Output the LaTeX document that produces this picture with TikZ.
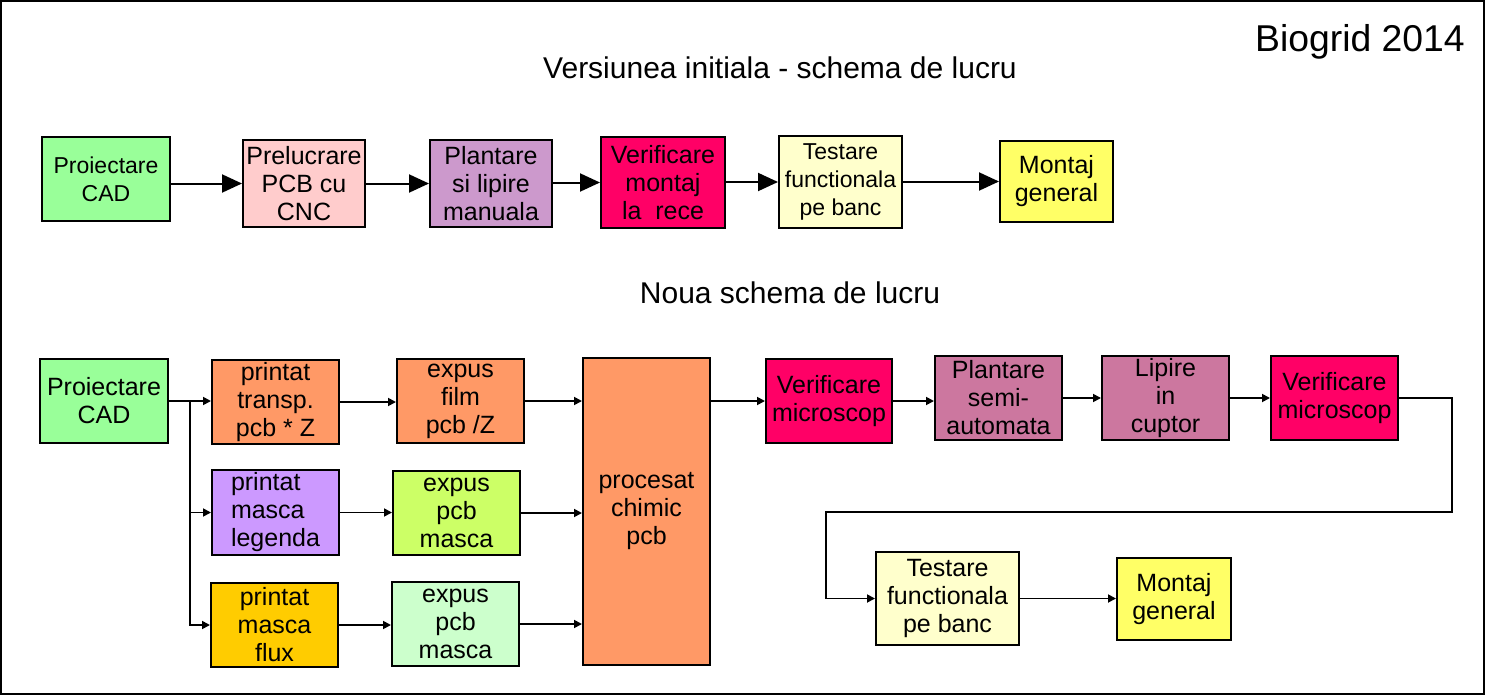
\documentclass[tikz,border=0pt]{standalone}
\usepackage{fontspec}
\setmainfont{Liberation Sans}
\usetikzlibrary{arrows.meta}

\definecolor{cadgreen}{HTML}{99FF99}
\definecolor{cncpink}{HTML}{FFCCCC}
\definecolor{plantlilac}{HTML}{CC99CC}
\definecolor{verifred}{HTML}{FF0066}
\definecolor{testcream}{HTML}{FFFFCC}
\definecolor{montyellow}{HTML}{FFFF66}
\definecolor{pcborange}{HTML}{FF9966}
\definecolor{maskviolet}{HTML}{CC99FF}
\definecolor{masklime}{HTML}{CCFF66}
\definecolor{fluxamber}{HTML}{FFCC00}
\definecolor{maskmint}{HTML}{CCFFCC}
\definecolor{ovenmauve}{HTML}{CC779F}

\begin{document}
\begin{tikzpicture}[x=0.75pt,y=-0.75pt,
  box/.style={draw,line width=1.5pt,inner sep=0pt,align=center,font=\fontsize{18.75}{21}\selectfont},
  smallbox/.style={box,font=\fontsize{17.25}{21}\selectfont},
  bigarrow/.style={line width=1.5pt,-{Triangle[length=15pt,width=13.5pt]}},
  arr/.style={line width=1.3pt,-{Triangle[length=6pt,width=6pt]}},
  link/.style={line width=1.3pt}]

\useasboundingbox (0,0) rectangle (1486,696);
\draw[line width=1.5pt] (1,1) rectangle (1484,694);

% Titles
\node[font=\fontsize{28}{32}\selectfont] (year) at (1360,42) {Biogrid 2014};
\node[font=\fontsize{22.5}{26}\selectfont] (oldtitle) at (780,68) {Versiunea initiala - schema de lucru};
\node[font=\fontsize{22.5}{26}\selectfont] (newtitle) at (790,293) {Noua schema de lucru};

% Old flow
\node[smallbox,fill=cadgreen,minimum width=96pt,minimum height=63pt] (tcad) at (106,179) {Proiectare\\CAD};
\node[box,fill=cncpink,minimum width=91.5pt,minimum height=65.25pt] (tcnc) at (304,183.5) {Prelucrare\\PCB cu\\CNC};
\node[box,fill=plantlilac,minimum width=91.5pt,minimum height=65.25pt] (tplant) at (491,183.5) {Plantare\\si lipire\\manuala};
\node[box,fill=verifred,minimum width=93pt,minimum height=68.25pt] (tverif) at (663,182.5) {Verificare\\montaj\\la\ \ rece};
\node[smallbox,fill=testcream,minimum width=92.25pt,minimum height=69pt] (ttest) at (840.5,182) {Testare\\functionala\\pe banc};
\node[box,fill=montyellow,minimum width=84.75pt,minimum height=60.75pt] (tmont) at (1056.5,181.5) {Montaj\\general};

\foreach \a/\b in {tcad/tcnc,tcnc/tplant,tplant/tverif,tverif/ttest,ttest/tmont}
  \draw[bigarrow] (\a.east |- \b) -- (\b.west);

% New flow
\node[box,fill=cadgreen,minimum width=96pt,minimum height=63pt] (cad) at (104,401) {Proiectare\\CAD};
\node[box,fill=pcborange,minimum width=95.25pt,minimum height=63pt] (ptransp) at (275.5,402) {printat\\transp.\\pcb * Z};
\node[box,fill=maskviolet,minimum width=95.25pt,minimum height=63.75pt,align=left] (plegenda) at (275.5,512.5) {printat\\masca\\legenda};
\node[box,fill=fluxamber,minimum width=95.25pt,minimum height=63pt] (pflux) at (274.5,625) {printat\\masca\\flux};
\node[box,fill=pcborange,minimum width=95.25pt,minimum height=63pt] (efilm) at (460.5,401) {expus\\film\\pcb /Z};
\node[box,fill=masklime,minimum width=95.25pt,minimum height=63pt] (emasca) at (456.5,513) {expus\\pcb\\masca};
\node[box,fill=maskmint,minimum width=95.25pt,minimum height=63pt] (eflux) at (455.5,624) {expus\\pcb\\masca};
\node[box,fill=pcborange,minimum width=95.25pt,minimum height=230.25pt] (chimic) at (646.5,511.5) {procesat\\chimic\\pcb};
\node[box,fill=verifred,minimum width=94.5pt,minimum height=63pt] (micro) at (829,401) {Verificare\\microscop};
\node[box,fill=ovenmauve,minimum width=95.25pt,minimum height=63pt] (semi) at (998.5,398) {Plantare\\semi-\\automata};
\node[box,fill=ovenmauve,minimum width=95.25pt,minimum height=63pt] (cuptor) at (1165.5,398) {Lipire\\in\\cuptor};
\node[box,fill=verifred,minimum width=95.25pt,minimum height=63pt] (micro2) at (1334.5,398) {Verificare\\microscop};
\node[box,fill=testcream,minimum width=107.25pt,minimum height=69.75pt] (banc) at (947.5,598.5) {Testare\\functionala\\pe banc};
\node[box,fill=montyellow,minimum width=85.5pt,minimum height=61.5pt] (general) at (1174,599) {Montaj\\general};

% split after CAD
\coordinate (split) at (190,401);
\draw[link] (cad.east) -- (split);
\draw[arr] (split) -- (split -| ptransp.west);
\draw[arr] (split) |- (plegenda.west);
\draw[arr] (split) |- (pflux.west);

\draw[arr] (ptransp.east) -- (ptransp.east -| efilm.west);
\draw[arr] (plegenda.east) -- (plegenda.east -| emasca.west);
\draw[arr] (pflux.east) -- (pflux.east -| eflux.west);

\foreach \e in {efilm,emasca,eflux}
  \draw[arr] (\e.east) -- (\e.east -| chimic.west);

\draw[arr] (chimic.east |- micro) -- (micro.west);
\draw[arr] (micro.east) -- (micro.east -| semi.west);
\draw[arr] (semi.east) -- (cuptor.west);
\draw[arr] (cuptor.east) -- (micro2.west);

% loop back to second row
\coordinate (turnA) at (1452,512);
\coordinate (turnB) at (826,512);
\draw[arr] (micro2.east) -| (turnA) -- (turnB) |- (banc.west);
\draw[arr] (banc.east) -- (banc.east -| general.west);

\end{tikzpicture}
\end{document}
